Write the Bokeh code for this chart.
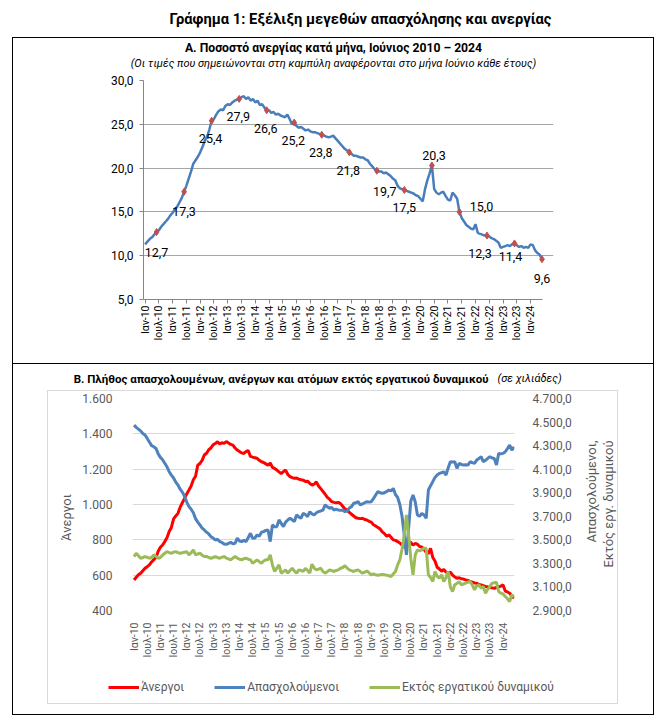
import math
from bokeh.plotting import figure
from bokeh.models import (ColumnDataSource, Range1d, LinearAxis, FixedTicker, Label,
                          LabelSet, Legend, LegendItem)
from bokeh.embed import file_html
from bokeh.resources import INLINE
from bokeh.core.properties import value

FONT = "Roboto"

# ---------------- data ----------------
# Unemployment rate, monthly, Jan 2010 - Jun 2024 (%)
rate = [
    11.3, 11.6, 11.9, 12.1, 12.4, 12.7, 12.9, 13.3, 13.6, 13.9, 14.2, 14.6,   # 2010
    14.9, 15.3, 15.6, 16.1, 16.6, 17.3, 18.0, 18.8, 19.6, 20.5, 20.9, 21.3,   # 2011
    21.8, 22.4, 23.1, 23.6, 24.4, 25.4, 25.6, 26.1, 26.5, 26.7, 26.6, 27.1,   # 2012
    27.3, 27.2, 27.5, 27.7, 27.8, 27.9, 28.1, 28.2, 27.9, 28.1, 27.7, 27.9,   # 2013
    27.5, 27.7, 27.2, 27.3, 26.9, 26.6, 26.6, 26.3, 26.4, 26.1, 26.2, 26.0,   # 2014
    25.9, 25.8, 26.1, 25.6, 25.0, 25.2, 24.8, 24.6, 24.7, 24.5, 24.3, 24.4,   # 2015
    24.2, 24.1, 24.1, 24.0, 23.9, 23.8, 23.7, 23.6, 23.5, 23.6, 23.7, 23.4,   # 2016
    23.1, 22.8, 22.5, 22.2, 22.0, 21.8, 21.6, 21.4, 21.4, 21.3, 21.2, 21.2,   # 2017
    21.0, 20.9, 20.5, 20.2, 19.9, 19.7, 19.6, 19.6, 19.4, 19.5, 19.3, 19.1,   # 2018
    18.8, 18.6, 18.0, 17.7, 17.6, 17.5, 17.4, 17.3, 17.2, 17.1, 16.9, 16.8,   # 2019
    16.5, 16.2, 17.6, 18.6, 19.4, 20.3, 17.6, 17.2, 17.0, 17.2, 17.3, 16.8,   # 2020
    16.4, 16.3, 17.2, 16.9, 16.5, 15.0, 14.3, 13.9, 13.5, 13.3, 13.1, 13.0,   # 2021
    13.6, 12.6, 12.5, 12.4, 12.3, 12.3, 12.2, 12.0, 11.9, 11.7, 11.5, 10.9,   # 2022
    11.0, 11.1, 11.2, 11.1, 11.3, 11.4, 11.2, 11.0, 11.1, 10.9, 11.0, 10.9,   # 2023
    11.3, 11.2, 10.6, 10.3, 10.1, 9.6,                                       # 2024
]

# Thousands of persons, monthly, Jan 2010 - Jun 2024
unemployed = [
    573, 588, 602, 611, 625, 639, 648, 658, 675, 688, 700, 735,
    758, 771, 790, 812, 847, 870, 918, 935, 950, 985, 1010, 1035,
    1060, 1082, 1105, 1140, 1160, 1222, 1232, 1250, 1280, 1290, 1310, 1320,
    1338, 1345, 1355, 1342, 1350, 1346, 1356, 1348, 1340, 1336, 1320, 1308,
    1300, 1292, 1289, 1300, 1305, 1272, 1268, 1265, 1262, 1250, 1242, 1238,
    1230, 1222, 1235, 1210, 1204, 1195, 1185, 1175, 1186, 1195, 1170, 1158,
    1152, 1148, 1150, 1144, 1140, 1138, 1130, 1132, 1120, 1110, 1115, 1128,
    1105, 1090, 1074, 1058, 1040, 1030, 1016, 1012, 1010, 1012, 1005, 990,
    975, 968, 955, 945, 935, 925, 922, 920, 922, 915, 912, 905,
    900, 885, 878, 870, 862, 845, 835, 820, 828, 815, 800, 797,
    790, 782, 770, 760, 755, 790, 785, 770, 780, 775, 762, 760,
    745, 730, 722, 752, 700, 680, 645, 635, 622, 632, 618, 612,
    618, 600, 590, 583, 585, 580, 578, 573, 570, 564, 560, 556,
    554, 548, 545, 540, 536, 534, 530, 528, 526, 530, 534, 538,
    545, 510, 505, 498, 480, 470,
]

employed = [
    4474, 4455, 4440, 4425, 4403, 4390, 4361, 4330, 4300, 4290, 4276, 4230,
    4200, 4180, 4150, 4120, 4078, 4050, 4025, 3990, 3965, 3930, 3905, 3870,
    3820, 3782, 3760, 3730, 3680, 3650, 3626, 3600, 3584, 3565, 3550, 3527,
    3515, 3499, 3505, 3485, 3478, 3465, 3462, 3470, 3479, 3466, 3471, 3515,
    3490, 3485, 3495, 3485, 3520, 3556, 3513, 3515, 3542, 3530, 3564, 3570,
    3580, 3584, 3485, 3626, 3610, 3612, 3669, 3640, 3612, 3650, 3669, 3683,
    3670, 3655, 3711, 3695, 3683, 3725, 3715, 3697, 3739, 3720, 3711, 3730,
    3739, 3745, 3753, 3796, 3780, 3768, 3775, 3753, 3760, 3753, 3750, 3753,
    3739, 3745, 3770, 3782, 3810, 3815, 3824, 3796, 3805, 3815, 3824, 3820,
    3824, 3850, 3881, 3909, 3900, 3895, 3900, 3909, 3923, 3915, 3937, 3885,
    3860, 3800, 3700, 3542, 3372, 3600, 3830, 3881, 3824, 3711, 3700, 3725,
    3711, 3683, 3923, 3960, 3994, 4030, 4050, 4064, 4070, 4078, 4050, 4110,
    4163, 4160, 4163, 4107, 4149, 4140, 4135, 4138, 4135, 4163, 4155, 4149,
    4177, 4190, 4206, 4163, 4175, 4191, 4206, 4195, 4191, 4135, 4234, 4230,
    4234, 4248, 4275, 4304, 4262, 4290,
]

inactive = [
    3358, 3386, 3365, 3344, 3350, 3358, 3352, 3344, 3350, 3372, 3360, 3344,
    3350, 3370, 3386, 3400, 3392, 3386, 3395, 3400, 3392, 3386, 3390, 3395,
    3400, 3372, 3390, 3414, 3372, 3380, 3386, 3370, 3358, 3360, 3350, 3344,
    3350, 3358, 3350, 3344, 3352, 3358, 3345, 3338, 3330, 3345, 3358, 3345,
    3335, 3330, 3340, 3344, 3335, 3330, 3301, 3315, 3330, 3315, 3301, 3320,
    3330, 3330, 3372, 3287, 3231, 3260, 3287, 3217, 3230, 3245, 3217, 3240,
    3259, 3235, 3217, 3245, 3240, 3231, 3259, 3240, 3217, 3293, 3260, 3245,
    3252, 3259, 3231, 3217, 3230, 3245, 3238, 3231, 3240, 3245, 3259, 3265,
    3280, 3260, 3245, 3238, 3231, 3240, 3245, 3230, 3217, 3225, 3236, 3220,
    3203, 3210, 3203, 3198, 3203, 3205, 3203, 3200, 3195, 3188, 3210, 3231,
    3287, 3330, 3420, 3542, 3711, 3542, 3340, 3203, 3372, 3414, 3405, 3414,
    3428, 3428, 3203, 3180, 3146, 3231, 3190, 3174, 3203, 3146, 3180, 3231,
    3100, 3061, 3118, 3130, 3146, 3118, 3125, 3132, 3140, 3146, 3118, 3075,
    3110, 3118, 3089, 3104, 3047, 3080, 3104, 3132, 3135, 3140, 3061, 3047,
    3040, 3019, 3000, 2976, 3033, 3019,
]

years = list(range(10, 25))
month_tick_labels = []
for yy in years:
    month_tick_labels.append(f"Ιαν-{yy}")
    if yy < 24:
        month_tick_labels.append(f"Ιουλ-{yy}")

rate_ticks = [5, 10, 15, 20, 25, 30]
rate_tick_labels = ["5,0", "10,0", "15,0", "20,0", "25,0", "30,0"]
left_ticks = [400, 600, 800, 1000, 1200, 1400, 1600]
left_tick_labels = ["400", "600", "800", "1.000", "1.200", "1.400", "1.600"]
right_ticks = [2900, 3100, 3300, 3500, 3700, 3900, 4100, 4300, 4500, 4700]
right_tick_labels = ["2.900,0", "3.100,0", "3.300,0", "3.500,0", "3.700,0",
                     "3.900,0", "4.100,0", "4.300,0", "4.500,0", "4.700,0"]

series_names = ["Άνεργοι", "Απασχολούμενοι", "Εκτός εργατικού δυναμικού"]
series_colors = ["#FF0000", "#4F81BD", "#9BBB59"]

main_title = "Γράφημα 1: Εξέλιξη μεγεθών απασχόλησης και ανεργίας"
title_a = "Α. Ποσοστό ανεργίας κατά μήνα, Ιούνιος 2010 – 2024"
note_a = "(Οι τιμές που σημειώνονται στη καμπύλη αναφέρονται στο μήνα Ιούνιο κάθε έτους)"
title_b = "Β. Πλήθος απασχολουμένων, ανέργων και ατόμων εκτός εργατικού δυναμικού"
note_b = "(σε χιλιάδες)"
left_title_b = "Άνεργοι"
right_title_b = ["Απασχολούμενοι,", "Εκτός εργ. δυναμικού"]

# --------------- derived ---------------
months = list(range(len(rate)))
tick_pos = list(range(0, len(month_tick_labels) * 6, 6))
june_idx = [i for i in months if i % 12 == 5]
june_val = [rate[i] for i in june_idx]
june_txt = [f"{v:.1f}".replace(".", ",") for v in june_val]
# label offsets (screen px) per June label
lab_dx = [0, 0, -1, -1, -1, -1, -1, -1, 8, 0, 2, 22, -7, -4, 0]
lab_dy = [-20, -20, -18, -18, -18, -18, -18, -18, -21, -17, 10, 5, -18, -13, -19]

BORDER = "1px solid black"
X_START, X_END = -0.7, 173.2


def text_fig(w, h, styles=None, margin=None, transparent=False):
    f = figure(width=w, height=h, toolbar_location=None, output_backend="svg",
               x_range=Range1d(0, 1), y_range=Range1d(0, 1), min_border=0,
               x_axis_location=None, y_axis_location=None, title=None,
               styles=styles or {}, margin=margin)
    f.grid.visible = False
    f.outline_line_color = None
    if transparent:
        f.border_fill_color = None
        f.background_fill_color = None
    return f


def txt(f, x, y, text, size, style="normal", align="center", color="black", angle=0.0):
    f.add_layout(Label(x=x, y=y, x_units="screen", y_units="screen", text=text,
                       text_align=align, text_baseline="middle", text_font=FONT,
                       text_font_style=style, text_font_size=size, text_color=color,
                       angle=angle))


# --------------- header ---------------
head = text_fig(667, 37)
txt(head, 360, 19, main_title, "14.7px", style="bold")

# --------------- panel A ---------------
pa_head = text_fig(642, 34, margin=(0, 0, 0, 12),
                   styles={"border-left": BORDER, "border-right": BORDER, "border-top": BORDER})
txt(pa_head, 320, 25, title_a, "12.2px", style="bold")
txt(pa_head, 320, 9, note_a, "11px", style="italic")

pa = figure(width=642, height=293, x_range=Range1d(X_START, 178.0), y_range=Range1d(5, 30),
            toolbar_location=None, output_backend="svg", title=None,
            min_border_left=130, min_border_right=102, min_border_top=9, min_border_bottom=65,
            margin=(0, 0, 0, 12),
            styles={"border-left": BORDER, "border-right": BORDER, "border-bottom": BORDER})
pa.outline_line_color = None
pa.xgrid.visible = False
pa.ygrid.ticker = FixedTicker(ticks=rate_ticks)
pa.ygrid.grid_line_color = "#A6A6A6"
pa.ygrid.bounds = (X_START, X_END)
xa = pa.xaxis[0]
xa.bounds = (X_START, X_END)
xa.ticker = FixedTicker(ticks=tick_pos)
xa.major_label_overrides = dict(zip(tick_pos, month_tick_labels))
xa.major_label_orientation = math.pi / 2
xa.major_label_text_font = FONT
xa.major_label_text_font_size = "10.5px"
xa.major_label_text_color = "black"
xa.axis_line_color = "#868686"
xa.major_tick_line_color = "#868686"
xa.major_tick_out = 4
xa.major_tick_in = 0
xa.minor_tick_line_color = None
xa.major_label_standoff = 2
ya = pa.yaxis[0]
ya.ticker = FixedTicker(ticks=rate_ticks)
ya.major_label_overrides = dict(zip(rate_ticks, rate_tick_labels))
ya.major_label_text_font = FONT
ya.major_label_text_font_size = "12px"
ya.major_label_text_color = "black"
ya.axis_line_color = "#868686"
ya.major_tick_line_color = "#868686"
ya.major_tick_out = 4
ya.major_tick_in = 0
ya.minor_tick_line_color = None
ya.major_label_standoff = 6

pa.line(months, rate, line_color="#4A7EBB", line_width=2.5)
pa.scatter(june_idx, june_val, marker="diamond", size=7, color="#C0504D")
lab_src = ColumnDataSource(dict(x=june_idx, y=june_val, text=june_txt, dx=lab_dx, dy=lab_dy))
pa.add_layout(LabelSet(x="x", y="y", text="text", x_offset="dx", y_offset="dy", source=lab_src,
                       text_align="center", text_baseline="middle", text_font=value(FONT),
                       text_font_size=value("12.5px"), text_color="black"))

# --------------- panel B ---------------
pb_head = text_fig(642, 29, margin=(0, 0, 0, 12),
                   styles={"border-left": BORDER, "border-right": BORDER})
txt(pb_head, 475, 15, title_b, "11.5px", style="bold", align="right")
txt(pb_head, 484, 15, note_b, "11px", style="italic", align="left")

pb = figure(width=642, height=275, x_range=Range1d(X_START, X_END), y_range=Range1d(400, 1600),
            toolbar_location=None, output_backend="svg", title=None,
            min_border_left=119, min_border_right=141, min_border_top=5, min_border_bottom=58,
            margin=(0, 0, 0, 12),
            styles={"border-left": BORDER, "border-right": BORDER})
pb.extra_y_ranges = {"right": Range1d(2900, 4700)}
pb.outline_line_color = None
pb.xgrid.visible = False
pb.ygrid.ticker = FixedTicker(ticks=left_ticks)
pb.ygrid.grid_line_color = "#D9D9D9"
raxis = LinearAxis(y_range_name="right")
pb.add_layout(raxis, "right")
xb = pb.xaxis[0]
xb.ticker = FixedTicker(ticks=tick_pos)
xb.major_label_overrides = dict(zip(tick_pos, month_tick_labels))
xb.major_label_orientation = math.pi / 2
xb.major_label_text_font_size = "10.5px"
xb.major_label_standoff = 6
lb = pb.left[0]
lb.ticker = FixedTicker(ticks=left_ticks)
lb.major_label_overrides = dict(zip(left_ticks, left_tick_labels))
lb.major_label_standoff = 14
raxis.ticker = FixedTicker(ticks=right_ticks)
raxis.major_label_overrides = dict(zip(right_ticks, right_tick_labels))
raxis.major_label_standoff = 12
for ax in (xb, lb, raxis):
    ax.axis_line_color = None
    ax.major_tick_line_color = None
    ax.minor_tick_line_color = None
    ax.major_label_text_font = FONT
    ax.major_label_text_color = "#595959"
for ax in (lb, raxis):
    ax.major_label_text_font_size = "12px"

pb.line(months, unemployed, line_color=series_colors[0], line_width=3)
pb.line(months, employed, line_color=series_colors[1], line_width=3, y_range_name="right")
pb.line(months, inactive, line_color=series_colors[2], line_width=3, y_range_name="right")

# legend strip (bottom of panel B box); proxy renderers hold no visible point
pb_leg = text_fig(642, 47, margin=(0, 0, 0, 12),
                  styles={"border-left": BORDER, "border-right": BORDER, "border-bottom": BORDER})
leg_items = []
for name, col in zip(series_names, series_colors):
    rr = pb_leg.line([float("nan")], [float("nan")], line_color=col, line_width=3)
    leg_items.append(LegendItem(label=name, renderers=[rr]))
legend = Legend(items=leg_items, orientation="horizontal", location=(95, 18),
                glyph_width=31, glyph_height=20, label_height=20, label_standoff=2,
                spacing=30, padding=0, margin=0, border_line_alpha=0,
                background_fill_alpha=0, label_text_font=FONT,
                label_text_font_size="12px", label_text_color="#595959")
pb_leg.add_layout(legend)

# axis titles of panel B (overlaid, rotated to read bottom-to-top)
lt = text_fig(30, 80, transparent=True,
              styles={"position": "absolute", "left": "51px", "top": "477px"})
txt(lt, 15, 40, left_title_b, "13px", color="#595959", angle=math.pi / 2)
rt = text_fig(44, 150, transparent=True,
              styles={"position": "absolute", "left": "578px", "top": "432px"})
txt(rt, 13, 142, right_title_b[0], "13px", color="#595959", align="right", angle=math.pi / 2)
txt(rt, 30, 142, right_title_b[1], "13px", color="#595959", align="right", angle=math.pi / 2)

# faint chart-area frame of panel B
area = text_fig(571, 314, transparent=True,
                styles={"position": "absolute", "left": "47px", "top": "390px",
                        "border": "1px solid #D9D9D9"})

open("out.html", "w").write(file_html([head, pa_head, pa, pb_head, pb, pb_leg, lt, rt, area],
                                      INLINE))
